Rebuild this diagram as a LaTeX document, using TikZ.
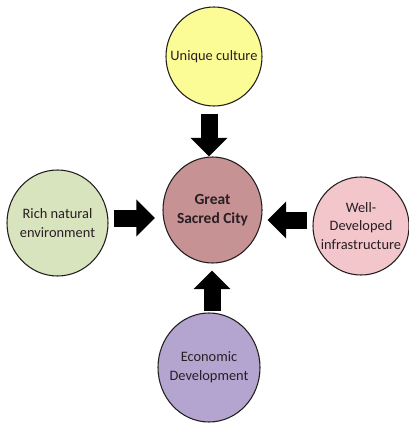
\documentclass[tikz,border=0pt]{standalone}
\usepackage{fontspec}
\setmainfont{Carlito}
\usetikzlibrary{shapes.geometric,arrows.meta,calc}

\tikzset{
  blob/.style={ellipse, draw={rgb, 255:red, 35; green, 30; blue, 30}, line width=0.8pt, inner sep=0pt},
  blobtext/.style={align=center, inner sep=0pt, text={rgb, 255:red, 40; green, 30; blue, 35}, font=\fontsize{10.8}{14}\selectfont},
  bigarrow/.style={line width=12.75pt, -{Triangle[length=14pt,width=27pt]}},
}

\begin{document}
\begin{tikzpicture}[x=0.75pt,y=0.75pt,yscale=-1,xscale=1]
\useasboundingbox (0,0) rectangle (409,425);

%Shape: Ellipse
\node[blob, minimum width=72pt, minimum height=74.25pt, fill={rgb, 255:red, 252; green, 252; blue, 150 }] (culture) at (214,56.5) {};
%Shape: Ellipse
\node[blob, minimum width=74.25pt, minimum height=79.5pt, fill={rgb, 255:red, 198; green, 146; blue, 148 }] (city) at (212.5,210) {};
%Shape: Ellipse
\node[blob, minimum width=75.75pt, minimum height=79.5pt, fill={rgb, 255:red, 216; green, 228; blue, 190 }] (rich) at (57.5,223) {};
%Shape: Ellipse
\node[blob, minimum width=72pt, minimum height=73.5pt, fill={rgb, 255:red, 242; green, 198; blue, 202 }] (infra) at (361,226) {};
%Shape: Ellipse
\node[blob, minimum width=76.5pt, minimum height=81.75pt, fill={rgb, 255:red, 180; green, 164; blue, 208 }] (econ) at (209,367.5) {};

%Text
\node[blobtext] (culturetext) at (culture) {Unique culture};
\node[blobtext, font=\fontsize{11.6}{14}\selectfont\bfseries] (citytext) at (city) {Great\\Sacred City};
\node[blobtext] (richtext) at (rich) {Rich natural\\environment};
\node[blobtext] (infratext) at (infra) {Well-\\Developed\\infrastructure};
\node[blobtext] (econtext) at (econ) {Economic\\Development};

%Straight Lines
\draw[bigarrow] ($(culture.south)+(-5,7)$) -- ($(city.north)+(-3.5,0)$);
\draw[bigarrow] ($(rich.east)+(5.5,-5)$) -- ($(city.west)+(-7.5,8)$);
\draw[bigarrow] ($(infra.west)+(-5,-6)$) -- ($(city.east)+(5,10)$);
\draw[bigarrow] ($(econ.north)+(3,-1)$) -- ($(city.south)+(-0.5,7)$);

\end{tikzpicture}
\end{document}
